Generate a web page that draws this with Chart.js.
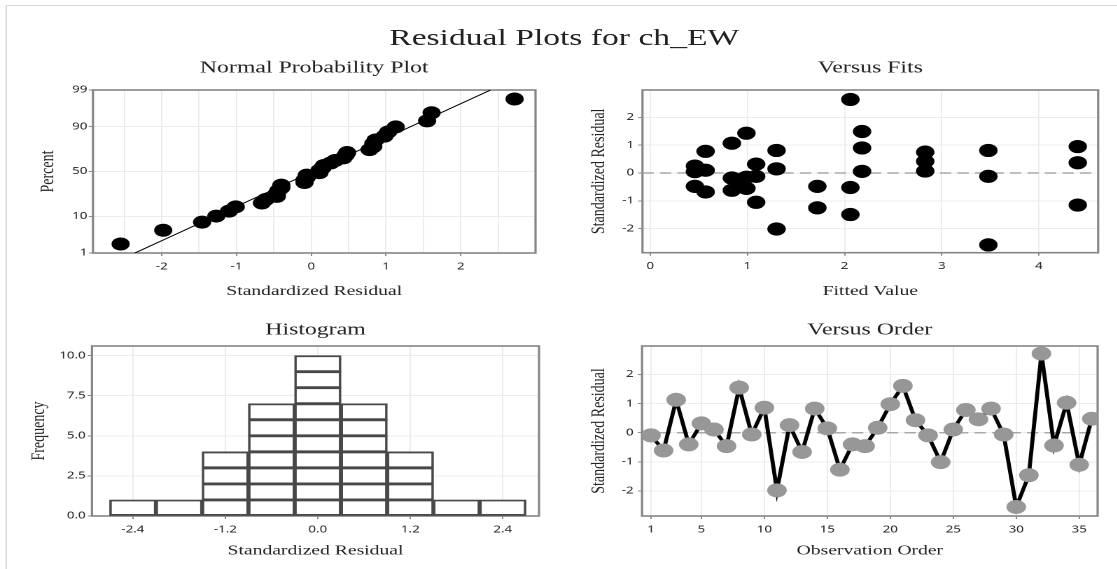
<!DOCTYPE html>
<html>
<head>
<meta charset="utf-8">
<script src="https://cdn.jsdelivr.net/npm/chart.js@4.4.1/dist/chart.umd.min.js"></script>
<style>
html, body { margin: 0; padding: 0; background: #fff; overflow: hidden; }
/* the reference is stretched sideways, so the whole sheet is drawn narrow and widened */
#page { position: absolute; left: 0; top: 0; width: 798px; height: 569px; transform: scaleX(1.4); transform-origin: 0 0; }
#edge { position: absolute; left: 3.6px; top: 5px; right: 0; bottom: 0; border-left: 1px solid #d8d8d8; border-top: 1.5px solid #d8d8d8; }
#title { position: absolute; left: 4px; top: 25px; width: 798px; text-align: center; font: 24px/24px "Liberation Serif"; color: #222; }
canvas { position: absolute; }
</style>
</head>
<body>
<div id="page">
  <div id="edge"></div>
  <div id="title">Residual Plots for ch_EW</div>
  <canvas id="npp" width="389" height="253" style="left:0;top:50px"></canvas>
  <canvas id="fits" width="391" height="253" style="left:400px;top:50px"></canvas>
  <canvas id="hist" width="389" height="263" style="left:0;top:306px"></canvas>
  <canvas id="order" width="391" height="263" style="left:400px;top:306px"></canvas>
</div>
<script>
// standardized residuals in observation order
const residuals = [-0.09, -0.61, 1.13, -0.40, 0.32, 0.11, -0.46, 1.55, -0.06, 0.86,
                   -1.98, 0.26, -0.66, 0.83, 0.15, -1.27, -0.40, -0.46, 0.17, 0.98,
                   1.61, 0.43, -0.09, -1.01, 0.11, 0.78, 0.46, 0.83, -0.06, -2.55,
                   -1.46, 2.72, -0.44, 1.03, -1.10, 0.48];

// versus fits
const fittedValues = [0.46, 0.46, 0.46, 0.57, 0.57, 0.57, 0.84, 0.84, 0.84, 0.92,
                      0.99, 0.99, 0.99, 1.09, 1.09, 1.09, 1.30, 1.30, 1.30, 1.72,
                      1.72, 2.06, 2.06, 2.06, 2.18, 2.18, 2.18, 2.83, 2.83, 2.83,
                      3.48, 3.48, 3.48, 4.40, 4.40, 4.40];
const fitResiduals = [0.25, 0.05, -0.48, 0.78, 0.10, -0.68, 1.07, -0.18, -0.62, -0.40,
                      1.43, -0.15, -0.55, 0.32, -0.12, -1.05, 0.81, 0.15, -2.01, -0.48,
                      -1.25, 2.64, -0.52, -1.49, 1.49, 0.90, 0.06, 0.75, 0.42, 0.07,
                      0.81, -0.12, -2.58, 0.95, 0.37, -1.15];

// histogram
const histCenters = [-2.4, -1.8, -1.2, -0.6, 0.0, 0.6, 1.2, 1.8, 2.4];
const histCounts = [1, 1, 4, 7, 10, 7, 4, 1, 1];

// normal probability plot
const nppTickPercent = [1, 10, 50, 90, 99];
const nppLineResidual = [-2.36, 2.40];
const nppLinePercent = [1, 99];

// tick labels
const nppXTicks = [-2.5, -2, -1.5, -1, -0.5, 0, 0.5, 1, 1.5, 2, 2.5];
const fitsXTicks = [0, 1, 2, 3, 4];
const residTicks = [-2, -1, 0, 1, 2];
const histXTicks = [-2.4, -1.2, 0, 1.2, 2.4];
const histYTicks = [0, 2.5, 5, 7.5, 10];
const orderTicks = [1, 5, 10, 15, 20, 25, 30, 35];

const TICK_FONT = { family: 'Noto Sans', size: 9.5 };
const AXIS_FONT = { family: 'Liberation Serif', size: 14 };
const PANEL_FONT = { family: 'Liberation Serif', size: 17, weight: 'normal' };
const GRID = '#ececec';

// inverse normal cdf (Abramowitz & Stegun 26.2.23), for the probability axis
function normInv(p) {
  const t = Math.sqrt(-2 * Math.log(p < 0.5 ? p : 1 - p));
  const z = t - (2.515517 + 0.802853 * t + 0.010328 * t * t) /
                (1 + 1.432788 * t + 0.189269 * t * t + 0.001308 * t * t * t);
  return p < 0.5 ? -z : z;
}

function axis({ min, max, ticks, label, size, titlePad, tickPad, labelOf, marked }) {
  return {
    type: 'linear', min, max, offset: false,
    afterBuildTicks: s => { s.ticks = ticks.map(v => ({ value: v })); },
    afterFit: s => { if (s.isHorizontal()) s.height = size; else s.width = size; },
    grid: {
      color: GRID, lineWidth: 1, offset: false, tickLength: 3,
      tickColor: c => (!marked || (c.tick && marked(c.tick.value))) ? '#8a8a8a' : 'rgba(0,0,0,0)'
    },
    border: { display: false },
    ticks: { font: TICK_FONT, color: '#222', padding: tickPad, maxRotation: 0, autoSkip: false,
             callback: labelOf || (v => v) },
    title: { display: true, text: label, font: AXIS_FONT, color: '#222', padding: titlePad }
  };
}

const framePlugin = {
  id: 'frame',
  beforeDatasetsDraw(chart) {
    const { ctx, chartArea: a } = chart;
    ctx.save();
    ctx.strokeStyle = '#858585';
    ctx.lineWidth = 1.6;
    ctx.strokeRect(a.left, a.top, a.right - a.left, a.bottom - a.top);
    ctx.restore();
  }
};

function panelPlugins(text, pad) {
  return {
    legend: { display: false },
    tooltip: { enabled: false },
    title: { display: true, text, fullSize: false, font: PANEL_FONT, color: '#222', padding: pad }
  };
}

const common = { responsive: false, animation: false, events: [], devicePixelRatio: 2 };
const TOP_TITLE = { top: 7.8, bottom: 11.8 };
const BOTTOM_TITLE = { top: 13.8, bottom: 5.8 };
const RES_MIN = -2.86, RES_MAX = 2.98;

// ---- Normal Probability Plot
const sortedRes = residuals.slice().sort((a, b) => a - b);
const nppPoints = sortedRes.map((r, i) => ({ x: r, y: normInv((i + 1 - 0.3) / (sortedRes.length + 0.4)) }));

new Chart(document.getElementById('npp'), {
  type: 'scatter',
  data: {
    datasets: [
      { data: nppPoints, backgroundColor: '#000', borderWidth: 0, pointRadius: 6.5 },
      { data: nppLineResidual.map((r, i) => ({ x: r, y: normInv(nppLinePercent[i] / 100) })),
        showLine: true, borderColor: '#000', borderWidth: 1, pointRadius: 0 }
    ]
  },
  options: {
    ...common,
    layout: { padding: { right: 2.6 } },
    plugins: panelPlugins('Normal Probability Plot', TOP_TITLE),
    scales: {
      x: axis({ min: -2.92, max: 3.0, ticks: nppXTicks, label: 'Standardized Residual', size: 50,
                titlePad: { top: 0, bottom: 3.1 }, tickPad: 5,
                labelOf: v => Number.isInteger(v) ? v : '', marked: Number.isInteger }),
      y: axis({ min: normInv(0.01), max: normInv(0.99),
                ticks: nppTickPercent.map(p => normInv(p / 100)), label: 'Percent', size: 66.4,
                titlePad: { top: 25.9, bottom: 0 }, tickPad: 1,
                labelOf: (v, i) => nppTickPercent[i] })
    }
  },
  plugins: [framePlugin]
});

// ---- Versus Fits
new Chart(document.getElementById('fits'), {
  type: 'scatter',
  data: {
    datasets: [
      { data: fittedValues.map((f, i) => ({ x: f, y: fitResiduals[i] })),
        backgroundColor: '#000', borderWidth: 0, pointRadius: 6.6 },
      { data: [{ x: -0.08, y: 0 }, { x: 4.61, y: 0 }], showLine: true, pointRadius: 0,
        borderColor: '#a8a8a8', borderWidth: 1.5, borderDash: [8, 4.5] }
    ]
  },
  options: {
    ...common,
    layout: { padding: { right: 2.7 } },
    plugins: panelPlugins('Versus Fits', TOP_TITLE),
    scales: {
      x: axis({ min: -0.08, max: 4.61, ticks: fitsXTicks, label: 'Fitted Value', size: 50.3,
                titlePad: { top: 0, bottom: 3.1 }, tickPad: 5 }),
      y: axis({ min: RES_MIN, max: RES_MAX, ticks: residTicks, label: 'Standardized Residual', size: 58.9,
                titlePad: { top: 19.5, bottom: 0 }, tickPad: 3 })
    }
  },
  plugins: [framePlugin]
});

// ---- Histogram (each count drawn as a stack of unit cells)
const histDatasets = [];
for (let k = 1; k <= Math.max(...histCounts); k++) {
  histDatasets.push({
    data: histCenters.map((c, i) => ({ x: c, y: histCounts[i] >= k ? 1 : null })),
    backgroundColor: '#fff', borderColor: '#484848', borderWidth: 1.8, borderSkipped: false,
    barPercentage: 1, categoryPercentage: 1
  });
}

new Chart(document.getElementById('hist'), {
  type: 'bar',
  data: { datasets: histDatasets },
  options: {
    ...common,
    layout: { padding: { right: 4 } },
    plugins: panelPlugins('Histogram', BOTTOM_TITLE),
    scales: {
      x: { ...axis({ min: -2.93, max: 2.87, ticks: histXTicks, label: 'Standardized Residual', size: 53,
                     titlePad: { top: 0, bottom: 9.6 }, tickPad: 5, labelOf: v => v.toFixed(1) }),
           stacked: true },
      y: { ...axis({ min: 0, max: 10.6, ticks: histYTicks, label: 'Frequency', size: 65.7,
                     titlePad: { top: 19.5, bottom: 0 }, tickPad: 1.5, labelOf: v => v.toFixed(1) }),
           stacked: true }
    }
  },
  plugins: [framePlugin]
});

// ---- Versus Order
new Chart(document.getElementById('order'), {
  type: 'scatter',
  data: {
    datasets: [
      { data: residuals.map((r, i) => ({ x: i + 1, y: r })), showLine: true,
        borderColor: '#000', borderWidth: 2.9, backgroundColor: '#979797',
        pointBorderWidth: 0, pointRadius: 7 },
      { data: [{ x: 0.29, y: 0 }, { x: 36.46, y: 0 }], showLine: true, pointRadius: 0,
        borderColor: '#a8a8a8', borderWidth: 1.5, borderDash: [8, 4.5] }
    ]
  },
  options: {
    ...common,
    layout: { padding: { right: 2.7 } },
    plugins: panelPlugins('Versus Order', BOTTOM_TITLE),
    scales: {
      x: axis({ min: 0.29, max: 36.46, ticks: orderTicks, label: 'Observation Order', size: 53,
                titlePad: { top: 0, bottom: 9.6 }, tickPad: 5 }),
      y: axis({ min: RES_MIN, max: RES_MAX, ticks: residTicks, label: 'Standardized Residual', size: 58.6,
                titlePad: { top: 19.5, bottom: 0 }, tickPad: 3 })
    }
  },
  plugins: [framePlugin]
});
</script>
</body>
</html>
